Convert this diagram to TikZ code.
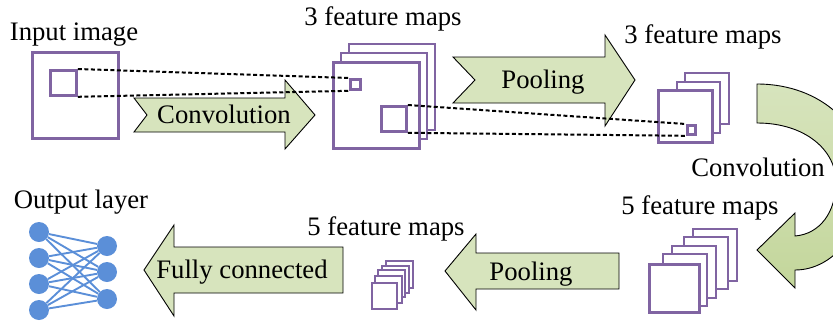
\documentclass[tikz,border=0pt]{standalone}
\usepackage{fontspec}
\setmainfont{Liberation Serif}
\usetikzlibrary{positioning}
\definecolor{fmPurple}{HTML}{8064A2}
\definecolor{arrGreen}{HTML}{D7E4BD}
\definecolor{arrGreenDark}{HTML}{C3D69B}
\definecolor{nnBlue}{HTML}{5B8FD8}

\tikzset{
  lbl/.style={font=\fontsize{26.7}{30}\selectfont, anchor=base, inner sep=0pt},
  fmap/.style={draw=fmPurple, fill=white, line width=2.3pt},
  fmfront/.style={fmap, line width=3pt},
  kbox/.style={draw=fmPurple, line width=2.8pt, inner sep=0pt, anchor=north west},
  link/.style={line width=2pt, dash pattern=on 4pt off 2.5pt},
  barrow/.style={draw=black, line width=0.9pt, fill=arrGreen},
  neuron/.style={circle, fill=nnBlue, minimum size=20pt, inner sep=0pt},
  syn/.style={draw=nnBlue, line width=1.9pt}
}

\begin{document}
\begin{tikzpicture}[x=1pt, y=-1pt]
  \useasboundingbox (0,0) rectangle (833,322);

  % curved convolution arrow, text goes over it
  \shadedraw[top color=arrGreen, bottom color=arrGreenDark, draw=black, line width=0.9pt]
    (757,84) .. controls (822,84) and (866,128) .. (866,178)
    .. controls (866,228) and (835,270) .. (795,270)
    -- (795,288) -- (757,250) -- (795,213) -- (795,236)
    .. controls (820,234) and (836,212) .. (836,182)
    .. controls (836,150) and (805,123) .. (757,123) -- cycle;

  % input image
  \draw[fmfront] (32,52) rectangle (118,138);
  \node[kbox, minimum width=26pt, minimum height=25pt] (kin) at (49,69) {};

  % first 3 feature maps
  \foreach \d in {2,1}
    \draw[fmap] ({333+8*\d},{62-9*\d}) rectangle ++(86,86);
  \draw[fmfront] (333,62) rectangle ++(86,86);
  \node[kbox, minimum width=10pt, minimum height=10pt] (ka) at (349,78) {};
  \node[kbox, minimum width=25pt, minimum height=25pt] (kb) at (380,105) {};

  % pooled 3 feature maps
  \draw[fmap] (685,73) rectangle (729,124);
  \draw[fmap] (677,82) rectangle (720,133);
  \draw[fmfront] (658,90) rectangle (712,142);
  \node[kbox, minimum width=8pt, minimum height=9pt] (kc) at (686,124) {};

  % 5 feature maps
  \foreach \x/\y in {693/229, 684/237, 672/246, 663/254}
    \draw[fmap] (\x,\y) rectangle ++(44,52);
  \draw[fmfront] (649,264) rectangle (699,312);

  % pooled 5 feature maps
  \foreach \x/\y in {386/261, 382/266, 378/270, 375/276}
    \draw[fmap, line width=2pt] (\x,\y) rectangle ++(27,27);
  \draw[fmfront, line width=2.6pt] (372,283) rectangle (397,309);

  % block arrows
  \draw[barrow] (134,98) -- (285,98) -- (285,80) -- (315,115) -- (285,149)
    -- (285,132) -- (134,132) -- (147,115) -- cycle;
  \draw[barrow] (453,57) -- (605,57) -- (605,35) -- (635,80) -- (605,126)
    -- (605,103) -- (453,103) -- (475,80) -- cycle;
  \draw[barrow] (619,253) -- (476,253) -- (476,234) -- (445,271) -- (476,310)
    -- (476,289) -- (619,289) -- cycle;
  \draw[barrow] (343,247) -- (174,247) -- (174,225) -- (144,270) -- (174,316)
    -- (174,293) -- (343,293) -- cycle;

  % receptive fields
  \draw[link] (kin.north east) -- (ka.north west);
  \draw[link] (kin.south east) -- (ka.south west);
  \draw[link] (kb.north east) -- (kc.north west);
  \draw[link] (kb.south east) -- (kc.south west);

  % output layer
  \foreach \y [count=\i] in {232,258,284,310}
    \node[neuron] (in\i) at (39,\y) {};
  \foreach \y [count=\j] in {246,272,299}
    \node[neuron] (out\j) at (107,\y) {};
  \foreach \i in {1,...,4}
    \foreach \j in {1,2,3}
      \draw[syn] (in\i) -- (out\j);

  % labels
  \node[lbl] (tIn) at (74,40) {Input image};
  \node[lbl] (tFm1) at (383,25) {3 feature maps};
  \node[lbl] (tFm2) at (703,43) {3 feature maps};
  \node[lbl] (tConv1) at (224,123) {Convolution};
  \node[lbl] (tPool1) at (543,88) {Pooling};
  \node[lbl] (tConv2) at (758,176) {Convolution};
  \node[lbl] (tFm3) at (700,214) {5 feature maps};
  \node[lbl] (tFm4) at (386,235) {5 feature maps};
  \node[lbl] (tPool2) at (531,280) {Pooling};
  \node[lbl] (tFc) at (242,278) {Fully connected};
  \node[lbl] (tOut) at (81,208) {Output layer};
\end{tikzpicture}
\end{document}
